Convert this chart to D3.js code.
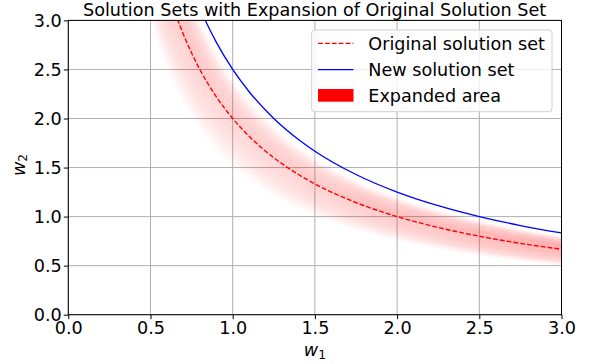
<!DOCTYPE html>
<html>
<head>
<meta charset="utf-8">
<script src="https://cdn.jsdelivr.net/npm/d3@7"></script>
<style>
body { margin: 0; background: #fff; }
text { font-family: "DejaVu Sans", sans-serif; }
</style>
</head>
<body>
<div id="chart"></div>
<script>
var W = 593, H = 364;

// values
var curveX   = [0.45, 0.5, 0.55, 0.6, 0.65, 0.7, 0.75, 0.8, 0.9, 1.0, 1.1, 1.25, 1.4, 1.5, 1.75, 2.0, 2.25, 2.5, 2.75, 3.0];
var origY    = [4.444, 4.0, 3.636, 3.333, 3.077, 2.857, 2.667, 2.5, 2.222, 2.0, 1.818, 1.6, 1.429, 1.333, 1.143, 1.0, 0.889, 0.8, 0.727, 0.667];
var newY     = [5.556, 5.0, 4.545, 4.167, 3.846, 3.571, 3.333, 3.125, 2.778, 2.5, 2.273, 2.0, 1.786, 1.667, 1.429, 1.25, 1.111, 1.0, 0.909, 0.833];
var bandLow  = [3.333, 3.0, 2.727, 2.5, 2.308, 2.143, 2.0, 1.875, 1.667, 1.5, 1.364, 1.2, 1.071, 1.0, 0.857, 0.75, 0.667, 0.6, 0.545, 0.5];
var bandHigh = [5.333, 4.8, 4.364, 4.0, 3.692, 3.429, 3.2, 3.0, 2.667, 2.4, 2.182, 1.92, 1.714, 1.6, 1.371, 1.2, 1.067, 0.96, 0.873, 0.8];
var xTicks = [0, 0.5, 1.0, 1.5, 2.0, 2.5, 3.0];
var yTicks = [0, 0.5, 1.0, 1.5, 2.0, 2.5, 3.0];
var legendLabels = ["Original solution set", "New solution set", "Expanded area"];

var pLeft = 68.3, pRight = 561.5, pTop = 20.4, pBottom = 314.7;
var fs = 17.6;

var svg = d3.select("#chart").append("svg").attr("width", W).attr("height", H);

var x = d3.scaleLinear().domain([0, 3]).range([pLeft, pRight]);
var y = d3.scaleLinear().domain([0, 3]).range([pBottom, pTop]);

svg.append("clipPath").attr("id", "clip").append("rect")
	.attr("x", pLeft).attr("y", pTop).attr("width", pRight - pLeft).attr("height", pBottom - pTop);

// grid
var grid = svg.append("g");
xTicks.forEach(function(t) {
	grid.append("line").attr("x1", x(t)).attr("x2", x(t)).attr("y1", pTop).attr("y2", pBottom)
		.attr("stroke", "#b0b0b0").attr("stroke-width", 1);
});
yTicks.forEach(function(t) {
	grid.append("line").attr("x1", pLeft).attr("x2", pRight).attr("y1", y(t)).attr("y2", y(t))
		.attr("stroke", "#b0b0b0").attr("stroke-width", 1);
});

var plot = svg.append("g").attr("clip-path", "url(#clip)");

// fading band: many faint strokes between the original curve and the band edges
var N = 30;
[bandLow, bandHigh].forEach(function(edge) {
	for (var k = 0; k < N; k++) {
		var t = (k + 0.5) / N;
		var pts = curveX.map(function(xv, i) { return [xv, origY[i] + t * (edge[i] - origY[i])]; });
		var ln = d3.line().x(function(d) { return x(d[0]); }).y(function(d) { return y(d[1]); }).curve(d3.curveMonotoneX);
		plot.append("path").attr("d", ln(pts)).attr("fill", "none")
			.attr("stroke", "red").attr("stroke-width", 2)
			.attr("stroke-opacity", 0.082 * (1 - Math.pow(t, 2.2)));
	}
});

var line = d3.line().x(function(d, i) { return x(curveX[i]); }).y(function(d) { return y(d); }).curve(d3.curveMonotoneX);

plot.append("path").attr("d", line(origY)).attr("fill", "none")
	.attr("stroke", "red").attr("stroke-width", 1.4).attr("stroke-dasharray", "4.8,2.1");
plot.append("path").attr("d", line(newY)).attr("fill", "none")
	.attr("stroke", "blue").attr("stroke-width", 1.3);

// spines
svg.append("rect").attr("x", pLeft).attr("y", pTop).attr("width", pRight - pLeft).attr("height", pBottom - pTop)
	.attr("fill", "none").attr("stroke", "black").attr("stroke-width", 1);

// axes
var xAxis = svg.append("g").attr("transform", "translate(0," + pBottom + ")")
	.call(d3.axisBottom(x).tickValues(xTicks).tickFormat(d3.format(".1f")).tickSize(4.5).tickPadding(2.3));
var yAxis = svg.append("g").attr("transform", "translate(" + pLeft + ",0)")
	.call(d3.axisLeft(y).tickValues(yTicks).tickFormat(d3.format(".1f")).tickSize(4.5).tickPadding(2));
[xAxis, yAxis].forEach(function(a) {
	a.select(".domain").remove();
	a.selectAll("text").attr("font-family", "DejaVu Sans").attr("font-size", fs).attr("fill", "black");
	a.selectAll("line").attr("stroke", "black").attr("stroke-width", 1);
});

// title
svg.append("text").attr("x", 314.6).attr("y", 16).attr("text-anchor", "middle")
	.attr("font-size", fs).text("Solution Sets with Expansion of Original Solution Set");

// axis labels
var xl = svg.append("text").attr("x", 314.9).attr("y", 356).attr("text-anchor", "middle").attr("font-size", fs);
xl.append("tspan").attr("font-style", "italic").text("w");
xl.append("tspan").attr("font-size", fs * 0.7).attr("dy", 2.6).text("1");

var yl = svg.append("text").attr("transform", "translate(24.5,165) rotate(-90)").attr("text-anchor", "middle").attr("font-size", fs);
yl.append("tspan").attr("font-style", "italic").text("w");
yl.append("tspan").attr("font-size", fs * 0.7).attr("dy", 2.6).text("2");

// legend
var lg = svg.append("g");
lg.append("rect").attr("x", 311.7).attr("y", 30).attr("width", 240.3).attr("height", 81.7)
	.attr("rx", 3).attr("fill", "white").attr("fill-opacity", 0.8).attr("stroke", "#d0d0d0").attr("stroke-width", 1);
var rowY = [43.3, 69.7, 95.5];
lg.append("line").attr("x1", 318).attr("x2", 353.5).attr("y1", rowY[0]).attr("y2", rowY[0])
	.attr("stroke", "red").attr("stroke-width", 1.3).attr("stroke-dasharray", "4.8,2.1");
lg.append("line").attr("x1", 318).attr("x2", 353.5).attr("y1", rowY[1]).attr("y2", rowY[1])
	.attr("stroke", "blue").attr("stroke-width", 1.3);
lg.append("rect").attr("x", 318).attr("y", 89).attr("width", 35.5).attr("height", 12.7).attr("fill", "red");
legendLabels.forEach(function(s, i) {
	lg.append("text").attr("x", 368.3).attr("y", rowY[i]).attr("dy", "0.36em")
		.attr("font-size", fs).text(s);
});
</script>
</body>
</html>
